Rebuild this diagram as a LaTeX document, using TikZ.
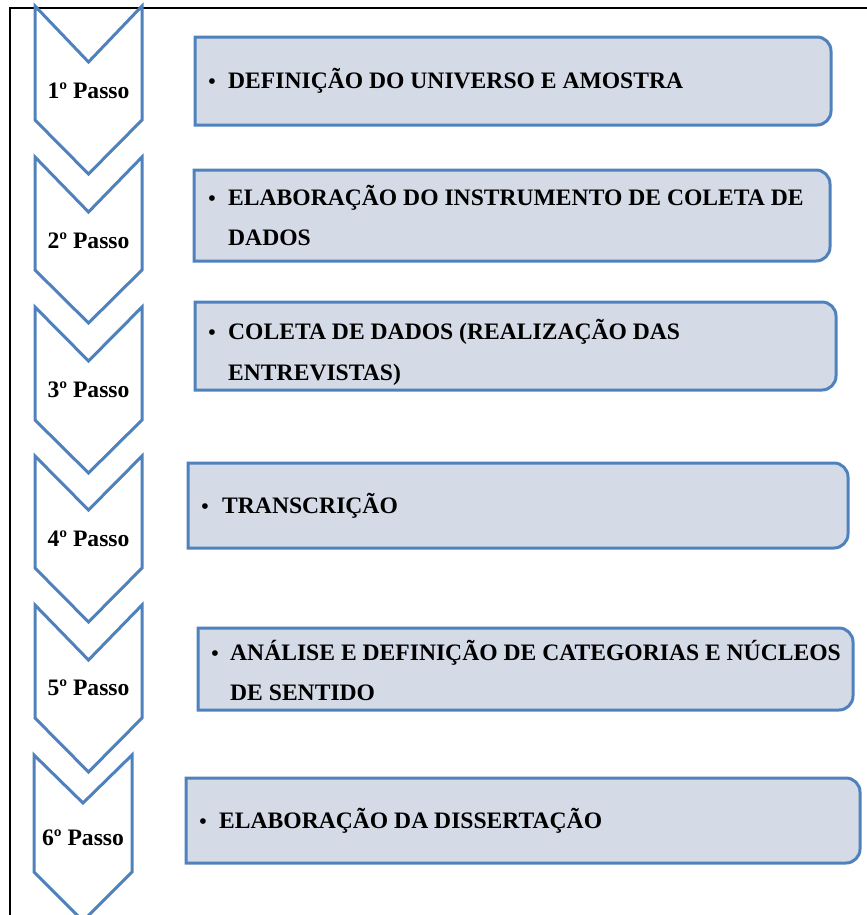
\documentclass[tikz,border=0pt]{standalone}
\usepackage{fontspec}
\setmainfont{Liberation Serif}
\definecolor{chev}{RGB}{79,129,189}
\definecolor{boxfill}{RGB}{212,218,230}
\tikzset{
 chevron/.style={draw=chev, line width=3bp, fill=white, line join=miter},
 stepframe/.style={draw=chev, line width=3bp, fill=boxfill},
 lbl/.style={font=\fontsize{23.6bp}{28bp}\selectfont\bfseries, anchor=base, inner sep=0},
 txt/.style={font=\fontsize{23.6bp}{28bp}\selectfont\bfseries, anchor=base west, inner sep=0},
 bul/.style={font=\fontsize{21bp}{24bp}\selectfont\bfseries, anchor=base, inner sep=0},
 frameline/.style={draw=black, line width=2bp}
}
\newcommand\chevronat[6]{%
 \draw[chevron] (#1,#3) -- ({(#1+#2)/2},#4) -- (#2,#3) -- (#2,#5) -- ({(#1+#2)/2},#6) -- (#1,#5) -- cycle;}
\newcommand\roundbox[4]{%
 \draw[stepframe] (#1,#2) -- ({#3-14},#2) arc[start angle=90,end angle=0,radius=14bp] -- (#3,{#4-14}) arc[start angle=0,end angle=-90,radius=14bp] -- (#1,#4) -- cycle;}
\begin{document}
\begin{tikzpicture}[x=1bp,y=-1bp]
\useasboundingbox (0,0) rectangle (867,915);
% outer frame
\draw[frameline] (10,930) -- (10,8) -- (880,8);
% chevrons
\chevronat{35}{142}{6}{62}{120}{174}
\chevronat{35}{142}{157}{212}{270}{323}
\chevronat{35}{142}{307}{361}{420}{473}
\chevronat{35}{142}{456}{510}{568}{622}
\chevronat{35}{142}{605}{660}{718}{772}
\chevronat{34}{132}{755}{803}{872}{921}
\node[lbl] (p1) at (88.5,98) {1º Passo};
\node[lbl] (p2) at (88.5,248) {2º Passo};
\node[lbl] (p3) at (88.5,397) {3º Passo};
\node[lbl] (p4) at (88.5,546) {4º Passo};
\node[lbl] (p5) at (88.5,695) {5º Passo};
\node[lbl] (p6) at (83,845) {6º Passo};
% boxes
\roundbox{195}{37}{831}{125}
\roundbox{194}{170}{830}{261}
\roundbox{195}{302}{836}{390}
\roundbox{188}{463}{848}{548}
\roundbox{198}{628}{853}{710}
\roundbox{186}{778}{860}{863}
% texts
\node[bul] (b1) at (212,88) {•};
\node[txt] (t1) at (228,88) {DEFINIÇÃO DO UNIVERSO E AMOSTRA};
\node[bul] (b2) at (212,205) {•};
\node[txt] (t2a) at (228,205) {ELABORAÇÃO DO INSTRUMENTO DE COLETA DE};
\node[txt] (t2b) at (228,245) {DADOS};
\node[bul] (b3) at (212,339) {•};
\node[txt] (t3a) at (228,339) {COLETA DE DADOS (REALIZAÇÃO DAS};
\node[txt] (t3b) at (228,380) {ENTREVISTAS)};
\node[bul] (b4) at (205,513) {•};
\node[txt] (t4) at (222,513) {TRANSCRIÇÃO};
\node[bul] (b5) at (215,660) {•};
\node[txt] (t5a) at (230,660) {ANÁLISE E DEFINIÇÃO DE CATEGORIAS E NÚCLEOS};
\node[txt] (t5b) at (230,700) {DE SENTIDO};
\node[bul] (b6) at (203,828) {•};
\node[txt] (t6) at (219,828) {ELABORAÇÃO DA DISSERTAÇÃO};
\end{tikzpicture}
\end{document}
